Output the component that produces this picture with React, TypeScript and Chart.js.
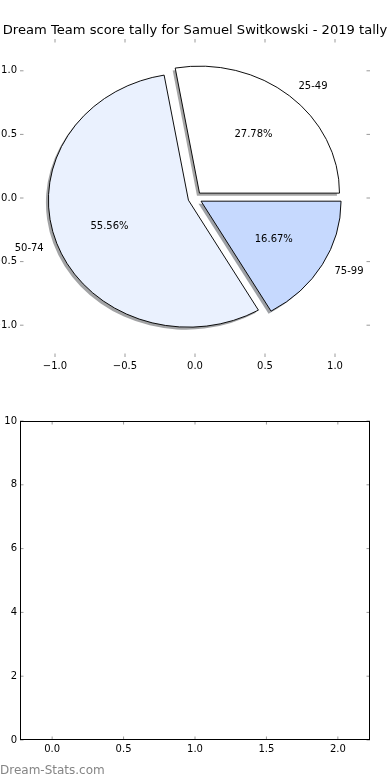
import React, { useEffect, useRef } from 'react';
import { Chart, registerables } from 'chart.js';

Chart.register(...registerables);

// ---------- data ----------
const TITLE = 'Dream Team score tally for Samuel Switkowski - 2019 tally';
const categories = ['25-49', '50-74', '75-99'];
const counts = [5, 10, 3];
const pieAxisTicks = [-1, -0.5, 0, 0.5, 1];
const barXTicks = [0, 0.5, 1, 1.5, 2];
const barYTicks = [0, 2, 4, 6, 8, 10];
const WATERMARK = 'Dream-Stats.com';

// ---------- styles ----------
const SLICE_COLORS = ['#ffffff', '#eaf1fe', '#c6d9fe'];
const FONT = "'DejaVu Sans', sans-serif";
const EXPLODE = 0.05;
const RADIUS_Y = 127;
const RADIUS_X = 140;
const SX = RADIUS_X / RADIUS_Y;
const TICK_LEN = 3.5;
const SHADOW_DX = -2.5;
const SHADOW_DY = 2.5;

Chart.defaults.font.family = FONT;
Chart.defaults.color = '#000';

const fmt1 = (v: number) => (v < 0 ? '\u2212' : '') + Math.abs(v).toFixed(1);

const shadowOf = (hex: string) => {
  const n = parseInt(hex.slice(1), 16);
  const r = ((n >> 16) & 255) * 0.3;
  const g = ((n >> 8) & 255) * 0.3;
  const b = (n & 255) * 0.3;
  return `rgba(${r.toFixed(0)},${g.toFixed(0)},${b.toFixed(0)},0.5)`;
};

const innerTicks = {
  id: 'innerTicks',
  afterDraw(chart: any, _args: any, opts: any) {
    const { ctx, chartArea } = chart;
    const { left, right, top, bottom } = chartArea;
    const xs = chart.scales.x;
    const ys = chart.scales.y;
    ctx.save();
    ctx.strokeStyle = '#9a9a9a';
    ctx.lineWidth = 1;
    ctx.beginPath();
    xs.ticks.forEach((t: any) => {
      const px = xs.getPixelForValue(t.value);
      ctx.moveTo(px, top);
      ctx.lineTo(px, top + TICK_LEN);
      ctx.moveTo(px, bottom);
      ctx.lineTo(px, bottom - TICK_LEN);
    });
    ys.ticks.forEach((t: any) => {
      const py = ys.getPixelForValue(t.value);
      ctx.moveTo(left, py);
      ctx.lineTo(left + TICK_LEN, py);
      ctx.moveTo(right, py);
      ctx.lineTo(right - TICK_LEN, py);
    });
    ctx.stroke();
    if (opts && opts.frame) {
      ctx.strokeStyle = '#000';
      ctx.lineWidth = 1;
      ctx.strokeRect(left + 0.5, top + 0.5, right - left - 1, bottom - top - 1);
    }
    ctx.restore();
  },
};

const piePainter = {
  id: 'piePainter',
  beforeDatasetDraw(chart: any, args: any) {
    const ctx = chart.ctx;
    const { left, right, top, bottom } = chart.chartArea;
    const cx = (left + right) / 2;
    const cy = (top + bottom) / 2;
    const arcs = args.meta.data;
    ctx.save();
    ctx.translate(cx, cy);
    ctx.scale(SX, 1);
    ctx.translate(-cx, -cy);
    // shadows first (below all wedges)
    arcs.forEach((arc: any) => {
      const mid = (arc.startAngle + arc.endAngle) / 2;
      const ex = Math.cos(mid) * EXPLODE * arc.outerRadius;
      const ey = Math.sin(mid) * EXPLODE * arc.outerRadius;
      ctx.save();
      ctx.translate(ex + SHADOW_DX / SX, ey + SHADOW_DY);
      ctx.beginPath();
      ctx.moveTo(arc.x, arc.y);
      ctx.arc(arc.x, arc.y, arc.outerRadius, arc.startAngle, arc.endAngle);
      ctx.closePath();
      ctx.fillStyle = shadowOf(arc.options.backgroundColor);
      ctx.fill();
      ctx.restore();
    });
    arcs.forEach((arc: any) => {
      const mid = (arc.startAngle + arc.endAngle) / 2;
      const ex = Math.cos(mid) * EXPLODE * arc.outerRadius;
      const ey = Math.sin(mid) * EXPLODE * arc.outerRadius;
      ctx.save();
      ctx.translate(ex, ey);
      arc.draw(ctx);
      ctx.restore();
    });
    ctx.restore();
    return false;
  },
  afterDraw(chart: any) {
    const ctx = chart.ctx;
    const { left, right, top, bottom } = chart.chartArea;
    const cx = (left + right) / 2;
    const cy = (top + bottom) / 2;
    const meta = chart.getDatasetMeta(0);
    const ds = chart.data.datasets[0].data as number[];
    const total = ds.reduce((a, b) => a + b, 0);
    ctx.save();
    ctx.font = `10px ${FONT}`;
    ctx.fillStyle = '#000';
    ctx.textBaseline = 'middle';
    meta.data.forEach((arc: any, i: number) => {
      const mid = (arc.startAngle + arc.endAngle) / 2;
      const c = Math.cos(mid);
      const s = Math.sin(mid);
      const r = arc.outerRadius;
      const lx = cx + c * (EXPLODE + 1.1) * r * SX;
      const ly = cy + s * (EXPLODE + 1.1) * r;
      ctx.textAlign = c > 0 ? 'left' : 'right';
      ctx.fillText(chart.data.labels[i], lx, ly);
      const px = cx + c * (EXPLODE + 0.6) * r * SX;
      const py = cy + s * (EXPLODE + 0.6) * r;
      ctx.textAlign = 'center';
      ctx.fillText(((ds[i] / total) * 100).toFixed(2) + '%', px, py);
    });
    ctx.restore();
  },
};

export default function App() {
  const axesRef = useRef<HTMLCanvasElement>(null);
  const pieRef = useRef<HTMLCanvasElement>(null);
  const barRef = useRef<HTMLCanvasElement>(null);

  useEffect(() => {
    const tickFont = { size: 10, family: FONT };
    const noGrid = { display: false, drawTicks: false };

    const axesChart = new Chart(axesRef.current as HTMLCanvasElement, {
      type: 'scatter',
      data: { datasets: [] },
      options: {
        animation: false,
        responsive: false,
        events: [],
        layout: { padding: 0 },
        plugins: {
          legend: { display: false },
          tooltip: { enabled: false },
          title: {
            display: true,
            text: TITLE,
            color: '#000',
            font: { size: 13.1, family: FONT, weight: 'normal', lineHeight: 1.2 },
            padding: { top: 23.08, bottom: 0.2 },
          },
          innerTicks: { frame: false },
        } as any,
        scales: {
          x: {
            type: 'linear',
            min: -1.25,
            max: 1.25,
            grid: noGrid,
            border: { display: false },
            afterBuildTicks: (s: any) => {
              s.ticks = pieAxisTicks.map((v) => ({ value: v }));
            },
            afterFit: (s: any) => {
              s.height = 33;
            },
            ticks: {
              padding: 3,
              color: '#000',
              font: tickFont,
              autoSkip: false,
              maxRotation: 0,
              callback: (v: any) => fmt1(Number(v)),
            },
          },
          y: {
            type: 'linear',
            min: -1.25,
            max: 1.25,
            grid: noGrid,
            border: { display: false },
            afterBuildTicks: (s: any) => {
              s.ticks = pieAxisTicks.map((v) => ({ value: v }));
            },
            afterFit: (s: any) => {
              s.width = 20;
            },
            ticks: {
              padding: 3,
              color: '#000',
              font: tickFont,
              autoSkip: false,
              callback: (v: any) => fmt1(Number(v)),
            },
          },
          yRight: {
            type: 'linear',
            position: 'right',
            min: -1.25,
            max: 1.25,
            grid: noGrid,
            border: { display: false },
            ticks: { display: false },
            afterFit: (s: any) => {
              s.width = 20;
            },
          },
        },
      } as any,
      plugins: [innerTicks],
    });

    const pieLabels = categories.slice().reverse();
    const pieValues = counts.slice().reverse();
    const pieColors = SLICE_COLORS.slice().reverse();

    const pieChart = new Chart(pieRef.current as HTMLCanvasElement, {
      type: 'pie',
      data: {
        labels: pieLabels,
        datasets: [
          {
            data: pieValues,
            backgroundColor: pieColors,
            borderColor: '#000',
            borderWidth: 0.9,
            borderJoinStyle: 'miter',
            offset: 0,
          } as any,
        ],
      },
      options: {
        animation: false,
        responsive: false,
        events: [],
        rotation: 90,
        radius: RADIUS_Y,
        layout: { padding: 0 },
        plugins: {
          legend: { display: false },
          tooltip: { enabled: false },
          title: { display: false },
        },
      } as any,
      plugins: [piePainter],
    });

    const barChart = new Chart(barRef.current as HTMLCanvasElement, {
      type: 'scatter',
      data: { datasets: [] },
      options: {
        animation: false,
        responsive: false,
        events: [],
        layout: { padding: { left: 0, right: 20, top: 31, bottom: 0 } },
        plugins: {
          legend: { display: false },
          tooltip: { enabled: false },
          innerTicks: { frame: true },
        } as any,
        scales: {
          x: {
            type: 'linear',
            min: -0.225,
            max: 2.225,
            grid: noGrid,
            border: { display: false },
            afterBuildTicks: (s: any) => {
              s.ticks = barXTicks.map((v) => ({ value: v }));
            },
            afterFit: (s: any) => {
              s.height = 40;
            },
            ticks: {
              padding: 3,
              color: '#000',
              font: tickFont,
              autoSkip: false,
              maxRotation: 0,
              callback: (v: any) => fmt1(Number(v)),
            },
          },
          y: {
            type: 'linear',
            min: 0,
            max: 10,
            grid: noGrid,
            border: { display: false },
            afterBuildTicks: (s: any) => {
              s.ticks = barYTicks.map((v) => ({ value: v }));
            },
            afterFit: (s: any) => {
              s.width = 20;
            },
            ticks: {
              padding: 3,
              color: '#000',
              font: tickFont,
              autoSkip: false,
              callback: (v: any) => String(v),
            },
          },
        },
      } as any,
      plugins: [innerTicks],
    });

    return () => {
      axesChart.destroy();
      pieChart.destroy();
      barChart.destroy();
    };
  }, []);

  return (
    <div
      style={{
        position: 'absolute',
        left: 0,
        top: 0,
        width: 390,
        height: 780,
        background: '#fff',
        overflow: 'hidden',
      }}
    >
      <canvas
        ref={axesRef}
        width={390}
        height={390}
        style={{ position: 'absolute', left: 0, top: 0, width: 390, height: 390 }}
      />
      <canvas
        ref={pieRef}
        width={390}
        height={396}
        style={{ position: 'absolute', left: 0, top: 0, width: 390, height: 396, pointerEvents: 'none' }}
      />
      <canvas
        ref={barRef}
        width={390}
        height={390}
        style={{ position: 'absolute', left: 0, top: 390, width: 390, height: 390 }}
      />
      <div
        style={{
          position: 'absolute',
          left: 0,
          top: 762,
          fontFamily: FONT,
          fontSize: 12,
          lineHeight: '16px',
          color: '#858585',
          whiteSpace: 'nowrap',
        }}
      >
        {WATERMARK}
      </div>
    </div>
  );
}
